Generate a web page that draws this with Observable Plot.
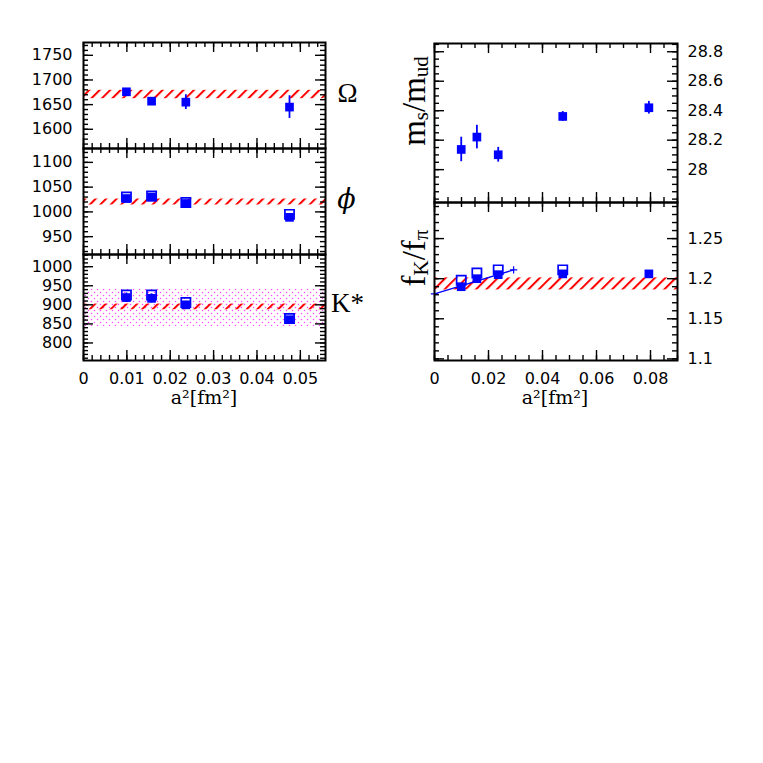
<!DOCTYPE html>
<html><head><meta charset="utf-8">
<script src="https://cdn.jsdelivr.net/npm/d3@7"></script>
<script src="https://cdn.jsdelivr.net/npm/@observablehq/plot@0.6"></script>
<style>
body{margin:0;background:#fff;}
#chart{position:relative;width:763px;height:763px;overflow:hidden;background:#fff;}
#chart > svg{position:absolute;left:0;top:0;background:transparent !important;overflow:visible;}
</style></head><body>
<div id="chart">
<svg width="0" height="0" style="position:absolute">
<defs>
<pattern id="hatchRed" patternUnits="userSpaceOnUse" width="7.4" height="7.4" patternTransform="rotate(45)">
<line x1="1" y1="0" x2="1" y2="7.4" stroke="#ff0000" stroke-width="2"/>
</pattern>
<pattern id="dotsPink" patternUnits="userSpaceOnUse" width="6" height="6">
<circle cx="1.5" cy="1.5" r="0.75" fill="#ff44ff"/>
<circle cx="4.5" cy="4.5" r="0.75" fill="#ff44ff"/>
</pattern>
</defs>
</svg>
</div>
<script>
// ---------------- data ----------------
const xLeft = [0.0099, 0.0157, 0.0236, 0.0475];
const xRight = [0.0099, 0.0157, 0.0236, 0.0475, 0.0794];

const omegaFilled = [1676, 1657, 1655, 1645];
const omegaErr = [3, 4, 15, 23];
const omegaBand = [1662, 1679];

const phiFilled = [1027, 1030, 1017, 989];
const phiOpen = [1030, 1032, 1019, 995];
const phiErr = [4, 4, 4, 6];
const phiBand = [1014, 1026];

const kstarFilled = [919, 917, 900, 861];
const kstarOpen = [926, 926, 906, 864];
const kstarErr = [12, 12, 9, 5];
const kstarBandWide = [843, 941];
const kstarBand = [887, 902];

const msFilled = [28.137, 28.221, 28.101, 28.361, 28.42];
const msErr = [0.083, 0.08, 0.05, 0.033, 0.043];

const fkFilled = [1.190, 1.200, 1.205, 1.206, 1.206];
const fkOpen = [1.198, 1.207, 1.211, 1.211];
const fkBand = [1.186, 1.201];
const fitX = [0, 0.0293];
const fitY = [1.181, 1.211];

// tick values / labels
const leftXTicks = [0, 0.01, 0.02, 0.03, 0.04, 0.05];
const rightXTicks = [0, 0.02, 0.04, 0.06, 0.08];
const omegaTicks = [1600, 1650, 1700, 1750];
const phiTicks = [950, 1000, 1050, 1100];
const kstarTicks = [800, 850, 900, 950, 1000];
const msTicks = [28, 28.2, 28.4, 28.6, 28.8];
const fkTicks = [1.1, 1.15, 1.2, 1.25];
const panelNames = ["Ω", "ϕ", "K*"];

// ---------------- drawing ----------------
const W = 763, H = 763;
const NUM_FONT = "DejaVu Sans, sans-serif";
const fmt = d => String(+d.toFixed(3));
const chart = document.getElementById("chart");

function range(a, b, s) { return d3.range(Math.round(a / s), Math.round(b / s) + 1).map(i => +(i * s).toFixed(6)); }

function panel(cfg) {
  const {fx0, fy0, fx1, fy1, xDomain, yDomain, xMajor, xMinor, yMajor, yMinor, ySide, xLabels, marks} = cfg;
  const fw = fx1 - fx0, fh = fy1 - fy0;
  const tk = {stroke: "black", strokeWidth: 1.4};
  const M = 10, m = 5;
  const all = [
    ...marks,
    Plot.ruleY(yMinor, {...tk, insetRight: fw - m}),
    Plot.ruleY(yMinor, {...tk, insetLeft: fw - m}),
    Plot.ruleY(yMajor, {...tk, insetRight: fw - M}),
    Plot.ruleY(yMajor, {...tk, insetLeft: fw - M}),
    Plot.ruleX(xMinor, {...tk, insetBottom: fh - m}),
    Plot.ruleX(xMinor, {...tk, insetTop: fh - m}),
    Plot.ruleX(xMajor, {...tk, insetBottom: fh - M}),
    Plot.ruleX(xMajor, {...tk, insetTop: fh - M}),
    Plot.frame({stroke: "black", strokeWidth: 2}),
    Plot.axisY({ticks: yMajor, anchor: ySide, tickSize: 0, tickPadding: ySide === "left" ? 11 : 10,
      tickFormat: fmt, fontSize: 16, fontFamily: NUM_FONT, label: null})
  ];
  if (xLabels) all.push(Plot.axisX({ticks: xMajor, anchor: "bottom", tickSize: 0, tickPadding: 12,
      tickFormat: fmt, fontSize: 16, fontFamily: NUM_FONT, label: null}));
  const p = Plot.plot({
    width: W, height: H,
    marginLeft: fx0, marginRight: W - fx1, marginTop: fy0, marginBottom: H - fy1,
    x: {domain: xDomain, axis: null},
    y: {domain: yDomain, axis: null},
    style: {background: "transparent", overflow: "visible", color: "black"},
    marks: all
  });
  chart.appendChild(p);
}

const idx4 = [0, 1, 2, 3], idx5 = [0, 1, 2, 3, 4];
const BLUE = "#0000ff";
function pointMarks(xs, ys, errs, opens, idx) {
  const out = [];
  if (errs) out.push(Plot.ruleX(idx, {x: i => xs[i], y1: i => ys[i] - errs[i], y2: i => ys[i] + errs[i], stroke: BLUE, strokeWidth: 1.8}));
  out.push(Plot.dot(idx, {x: i => xs[i], y: i => ys[i], symbol: "square", r: 4.9, fill: BLUE, stroke: "none"}));
  if (opens) out.push(Plot.dot(opens.map((_, i) => i), {x: i => xs[i], y: i => opens[i], symbol: "square", r: 5.2, fill: "none", stroke: BLUE, strokeWidth: 1.7}));
  return out;
}
const nameMark = (t, dy, size) => Plot.text([t], {text: d => d, frameAnchor: "right", dx: 22, dy, fontSize: size,
  fontFamily: "Liberation Serif, serif", textAnchor: "middle", lineAnchor: "middle"});

const LX = {fx0: 83, fx1: 325, xDomain: [0, 0.0558], xMajor: leftXTicks, xMinor: range(0, 0.054, 0.002), ySide: "left"};

panel({...LX, fy0: 42, fy1: 148, yDomain: [1561, 1776], yMajor: omegaTicks, yMinor: range(1570, 1770, 10), xLabels: false,
  marks: [Plot.rect([omegaBand], {y1: d => d[0], y2: d => d[1], fill: "url(#hatchRed)"}),
    ...pointMarks(xLeft, omegaFilled, omegaErr, null, idx4), nameMark(panelNames[0], -2, 27)]});

panel({...LX, fy0: 148, fy1: 254, yDomain: [914, 1128], yMajor: phiTicks, yMinor: range(920, 1120, 10), xLabels: false,
  marks: [Plot.rect([phiBand], {y1: d => d[0], y2: d => d[1], fill: "url(#hatchRed)"}),
    ...pointMarks(xLeft, phiFilled, phiErr, phiOpen, idx4),
    Plot.text([panelNames[1]], {text: d => d, frameAnchor: "right", dx: 21, dy: -2, fontSize: 27, fontStyle: "italic",
      fontFamily: "DejaVu Serif, serif", textAnchor: "middle", lineAnchor: "middle"})]});

panel({...LX, fy0: 254, fy1: 360, yDomain: [754, 1032], yMajor: kstarTicks, yMinor: range(760, 1030, 10), xLabels: true,
  marks: [Plot.rect([kstarBandWide], {y1: d => d[0], y2: d => d[1], fill: "url(#dotsPink)"}),
    Plot.rect([kstarBand], {y1: d => d[0], y2: d => d[1], fill: "url(#hatchRed)"}),
    ...pointMarks(xLeft, kstarFilled, kstarErr, kstarOpen, idx4), nameMark(panelNames[2], -4, 27)]});

const RX = {fx0: 434, fx1: 677, xDomain: [0, 0.09], xMajor: rightXTicks, xMinor: range(0, 0.09, 0.005), ySide: "right"};

panel({...RX, fy0: 43, fy1: 202, yDomain: [27.777, 28.856], yMajor: msTicks, yMinor: range(27.8, 28.85, 0.05), xLabels: false,
  marks: [...pointMarks(xRight, msFilled, msErr, null, idx5)]});

panel({...RX, fy0: 202, fy1: 360, yDomain: [1.098, 1.295], yMajor: fkTicks, yMinor: range(1.1, 1.29, 0.01), xLabels: true,
  marks: [Plot.rect([fkBand], {y1: d => d[0], y2: d => d[1], fill: "url(#hatchRed)"}),
    Plot.line(fitX.map((x, i) => [x, fitY[i]]), {x: d => d[0], y: d => d[1], stroke: BLUE, strokeWidth: 1.3}),
    Plot.dot(fitX.map((x, i) => [x, fitY[i]]), {x: d => d[0], y: d => d[1], symbol: "plus", r: 2.5, stroke: BLUE, strokeWidth: 1.2}),
    ...pointMarks(xRight, fkFilled, null, fkOpen, idx5)]});

// ---------------- axis titles ----------------
const lab = d3.select(chart).append("svg").attr("width", W).attr("height", H);
function xTitle(cx) {
  lab.append("text").attr("x", cx).attr("y", 404).attr("text-anchor", "middle")
    .attr("font-family", "DejaVu Serif, serif").attr("font-size", 19).text("a²[fm²]");
}
xTitle(204); xTitle(555);

function yTitle(cy, main1, sub1, main2, sub2) {
  const g = lab.append("g").attr("transform", `translate(425,${cy}) rotate(-90)`);
  const t = g.append("text").attr("text-anchor", "middle").attr("font-family", "Liberation Serif, serif").attr("font-size", 33);
  t.append("tspan").text(main1);
  t.append("tspan").attr("font-size", 21).attr("dy", 3).text(sub1);
  t.append("tspan").attr("dy", -3).text("/" + main2);
  t.append("tspan").attr("font-size", 21).attr("dy", 3).text(sub2);
}
yTitle(101, "m", "s", "m", "ud");
yTitle(258, "f", "K", "f", "π");
</script>
</body></html>
